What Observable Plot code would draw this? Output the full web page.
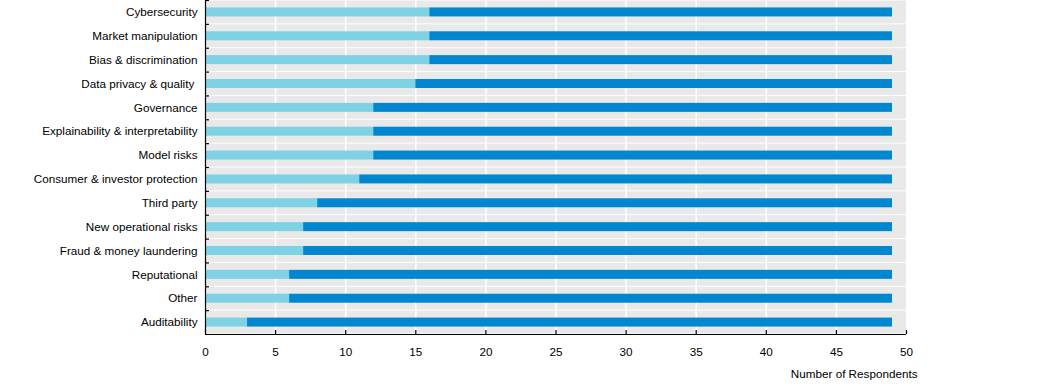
<!DOCTYPE html>
<html><head><meta charset="utf-8">
<script src="https://cdn.jsdelivr.net/npm/d3@7"></script>
<script src="https://cdn.jsdelivr.net/npm/@observablehq/plot@0.6"></script>
<style>body{margin:0;background:#fff} svg{display:block}</style>
</head><body><div id="chart"></div>
<script>
const categories = ["Cybersecurity","Market manipulation","Bias & discrimination","Data privacy & quality\u00a0","Governance","Explainability & interpretability","Model risks","Consumer & investor protection","Third party","New operational risks","Fraud & money laundering","Reputational","Other","Auditability"];
const seriesNames = ["Series A", "Series B"];
const lightValues = [16,16,16,15,12,12,12,11,8,7,7,6,6,3];
const darkValues  = [33,33,33,34,37,37,37,38,41,42,42,43,43,46];
const xTicks = [0,5,10,15,20,25,30,35,40,45,50];
const xLabel = "Number of Respondents";

const rows = [];
categories.forEach((c, i) => {
  rows.push({category: c, series: seriesNames[0], value: lightValues[i]});
  rows.push({category: c, series: seriesNames[1], value: darkValues[i]});
});

const W = 1046, H = 388, mL = 205, mR = 140, mT = 0, mB = 54;
const bw = (H - mT - mB) / categories.length;
const barH = 9;
const inset = (bw - barH) / 2;
const font = "'Liberation Sans', Arial, sans-serif";

const chart = Plot.plot({
  width: W, height: H,
  marginLeft: mL, marginRight: mR, marginTop: mT, marginBottom: mB,
  style: {fontFamily: font, fontSize: "11.7px", color: "#000", background: "#fff"},
  x: {domain: [0, 50]},
  y: {domain: categories, padding: 0, round: false},
  color: {domain: seriesNames, range: ["#7fd1e4", "#0087cf"]},
  marks: [
    Plot.barX(categories, {y: d => d, x1: 0, x2: 50, fill: "#e9e9e9", insetTop: 0.5, insetBottom: 0.5}),
    Plot.ruleX(xTicks.slice(1, -1), {stroke: "#fff", strokeWidth: 1.5}),
    Plot.barX(rows, {x: "value", y: "category", fill: "series", insetTop: inset, insetBottom: inset}),
    Plot.ruleX([0], {stroke: "#000", strokeWidth: 1.2}),
    Plot.ruleY([categories[categories.length - 1]], {dy: bw / 2, stroke: "#000", strokeWidth: 1.2}),
    Plot.ruleY(categories, {x1: 0, x2: 0.28, dy: -bw / 2, stroke: "#000", strokeWidth: 1.2}),
    Plot.axisY({tickSize: 0, tickPadding: 8, label: null, fontSize: "11.7px"}),
    Plot.axisX({ticks: xTicks, tickSize: -4, tickPadding: 17, label: null, fontSize: "11.7px", strokeWidth: 1.2}),
    Plot.text([xLabel], {frameAnchor: "bottom-right", text: d => d, dx: 11, dy: 40, textAnchor: "end", lineAnchor: "middle", fontSize: "11.7px", fill: "#000"})
  ]
});
document.getElementById("chart").appendChild(chart);
</script>
</body></html>
